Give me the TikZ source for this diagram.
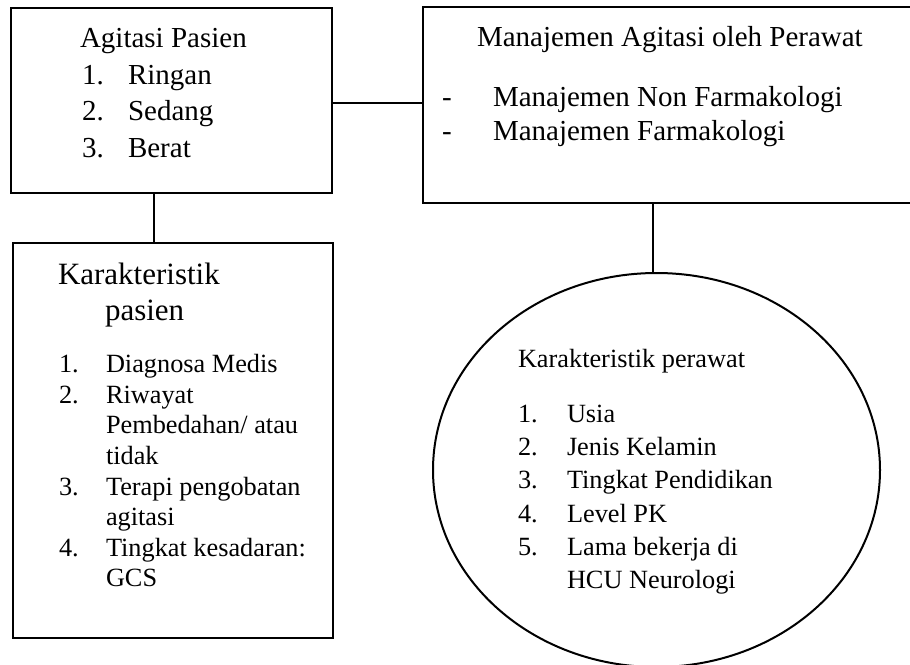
\documentclass[tikz,border=0pt]{standalone}
\usepackage{fontspec}
\setmainfont{Liberation Serif}
\usetikzlibrary{shapes.geometric}
\begin{document}
\begin{tikzpicture}[x=1pt,y=-1pt,
  boxshape/.style={draw=black,line width=2pt,rectangle,inner sep=0pt,fill=white},
  ellshape/.style={draw=black,line width=2pt,ellipse,inner sep=0pt},
  conn/.style={draw=black,line width=1.2pt},
  lbl/.style={anchor=base west,inner sep=0pt,outer sep=0pt},
  fA/.style={font=\fontsize{29}{35}\selectfont},
  fT/.style={font=\fontsize{31}{37}\selectfont},
  fB/.style={font=\fontsize{26.3}{31}\selectfont}]
\useasboundingbox (0,0) rectangle (910,664);
% shapes
\node[boxshape,minimum width=321pt,minimum height=185pt] (box1) at (171.5,100.5) {};
\node[boxshape,minimum width=494pt,minimum height=196pt] (box2) at (670,105) {};
\node[boxshape,minimum width=320pt,minimum height=395pt] (box3) at (173,440.5) {};
\node[ellshape,minimum width=447pt,minimum height=394pt] (ell) at (656.5,470) {};
% connector guides
\coordinate (h1) at (0,103);
\coordinate (v1) at (154,0);
\coordinate (v2) at (653,0);
\draw[conn] (box1.east |- h1) -- (box2.west |- h1);
\draw[conn] (box1.south -| v1) -- (box3.north -| v1);
\draw[conn] (box2.south -| v2) -- (ell.north -| v2);
% box1 text
\node[lbl,fA] (t1) at (80,47) {Agitasi Pasien};
\node[lbl,fA] (n11) at (82,84) {1.};
\node[lbl,fA] (i11) at (128,84) {Ringan};
\node[lbl,fA] (n12) at (82,120.5) {2.};
\node[lbl,fA] (i12) at (128,120.5) {Sedang};
\node[lbl,fA] (n13) at (82,157) {3.};
\node[lbl,fA] (i13) at (128,157) {Berat};
% box2 text
\node[lbl,fA] (t2) at (477,46) {Manajemen Agitasi oleh Perawat};
\node[lbl,fA] (d21) at (442,106) {-};
\node[lbl,fA] (i21) at (493,106) {Manajemen Non Farmakologi};
\node[lbl,fA] (d22) at (442,140) {-};
\node[lbl,fA] (i22) at (493,140) {Manajemen Farmakologi};
% box3 text
\node[lbl,fT] (t3a) at (58,284) {Karakteristik};
\node[lbl,fT] (t3b) at (105,320.5) {pasien};
\node[lbl,fB] (n31) at (59,372.7) {1.};
\node[lbl,fB] (i31) at (106,372.7) {Diagnosa Medis};
\node[lbl,fB] (n32) at (59,403.3) {2.};
\node[lbl,fB] (i32) at (106,403.3) {Riwayat};
\node[lbl,fB] (i32b) at (106,433.9) {Pembedahan/ atau};
\node[lbl,fB] (i32c) at (106,464.5) {tidak};
\node[lbl,fB] (n33) at (59,495.1) {3.};
\node[lbl,fB] (i33) at (106,495.1) {Terapi pengobatan};
\node[lbl,fB] (i33b) at (106,525.7) {agitasi};
\node[lbl,fB] (n34) at (59,556.3) {4.};
\node[lbl,fB] (i34) at (106,556.3) {Tingkat kesadaran:};
\node[lbl,fB] (i34b) at (106,586.9) {GCS};
% ellipse text
\node[lbl,fB] (t4) at (518,367.3) {Karakteristik perawat};
\node[lbl,fB] (n41) at (518,422.3) {1.};
\node[lbl,fB] (i41) at (567,422.3) {Usia};
\node[lbl,fB] (n42) at (518,455.5) {2.};
\node[lbl,fB] (i42) at (567,455.5) {Jenis Kelamin};
\node[lbl,fB] (n43) at (518,488.7) {3.};
\node[lbl,fB] (i43) at (567,488.7) {Tingkat Pendidikan};
\node[lbl,fB] (n44) at (518,522) {4.};
\node[lbl,fB] (i44) at (567,522) {Level PK};
\node[lbl,fB] (n45) at (518,555.2) {5.};
\node[lbl,fB] (i45) at (567,555.2) {Lama bekerja di};
\node[lbl,fB] (i45b) at (567,588.4) {HCU Neurologi};
\end{tikzpicture}
\end{document}
